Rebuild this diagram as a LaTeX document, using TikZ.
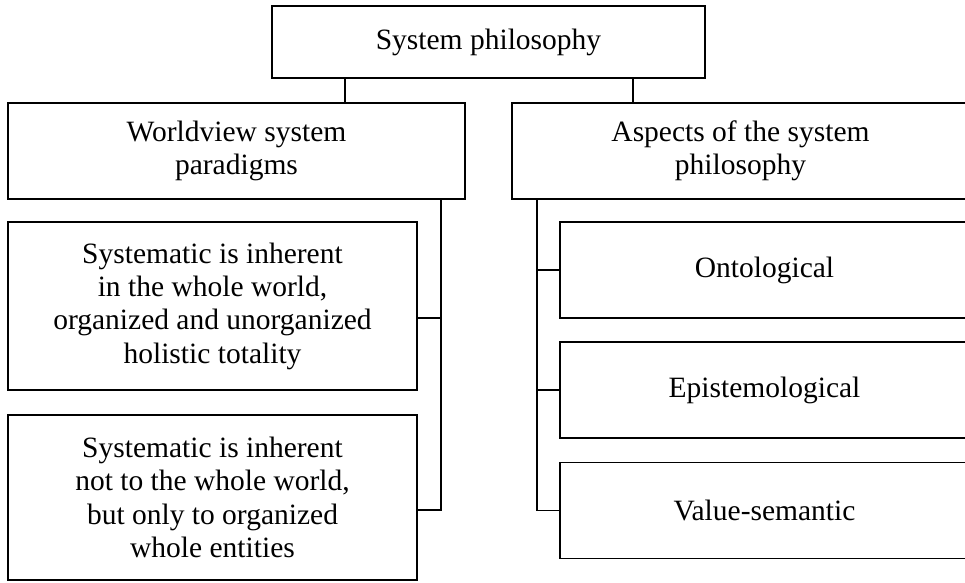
\documentclass[tikz,border=0pt]{standalone}
\usepackage{fontspec}
\setmainfont{Liberation Serif}
\usetikzlibrary{calc}
\tikzset{block/.style={draw, rectangle, align=center, inner sep=0pt, font=\fontsize{29.5pt}{33.3pt}\selectfont}}
\newcommand{\createbox}[6]{\node[block, minimum width=#4, minimum height=#5] (#1) at (#2,#3) {#6};}

\begin{document}
\begin{tikzpicture}[x=1pt,y=-1pt,line width=1.2pt]
    \useasboundingbox (0,0) rectangle (965,582);
    \clip (0,0) rectangle (965,582);
    %top levels
    \createbox{top}{488.5}{42}{433pt}{72pt}{System philosophy}
    \createbox{wv}{236.5}{151}{457pt}{96pt}{Worldview system\\paradigms}
    \createbox{asp}{740.5}{151}{457pt}{96pt}{Aspects of the system\\philosophy}
    %left column
    \createbox{s1}{212.5}{306}{409pt}{168pt}{Systematic is inherent\\in the whole world,\\organized and unorganized\\holistic totality}
    \createbox{s2}{212.5}{497.5}{409pt}{165pt}{Systematic is inherent\\not to the whole world,\\but only to organized\\whole entities}
    %right column
    \foreach \nm/\yc/\txt in {ont/270/Ontological, epi/390/Epistemological, val/510.5/Value-semantic}{
        \createbox{\nm}{764.5}{\yc}{409pt}{96pt}{\txt}}
    %connectors
    \coordinate (lt) at (345,0);
    \coordinate (rt) at (633,0);
    \coordinate (ltr) at (441,199);
    \coordinate (rtr) at (537,199);
    \draw (top.south -| lt) -- (wv.north -| lt);
    \draw (top.south -| rt) -- (asp.north -| rt);
    \draw ($(s1.east)+(0,12)$) -- ($(s1.east -| ltr)+(0,12)$);
    \draw (ltr) |- ($(s2.east)+(0,12.5)$);
    \draw (rtr) |- (val.west);
    \foreach \nm in {ont,epi}
        \draw (\nm.west) -- (\nm.west -| rtr);
\end{tikzpicture}
\end{document}
